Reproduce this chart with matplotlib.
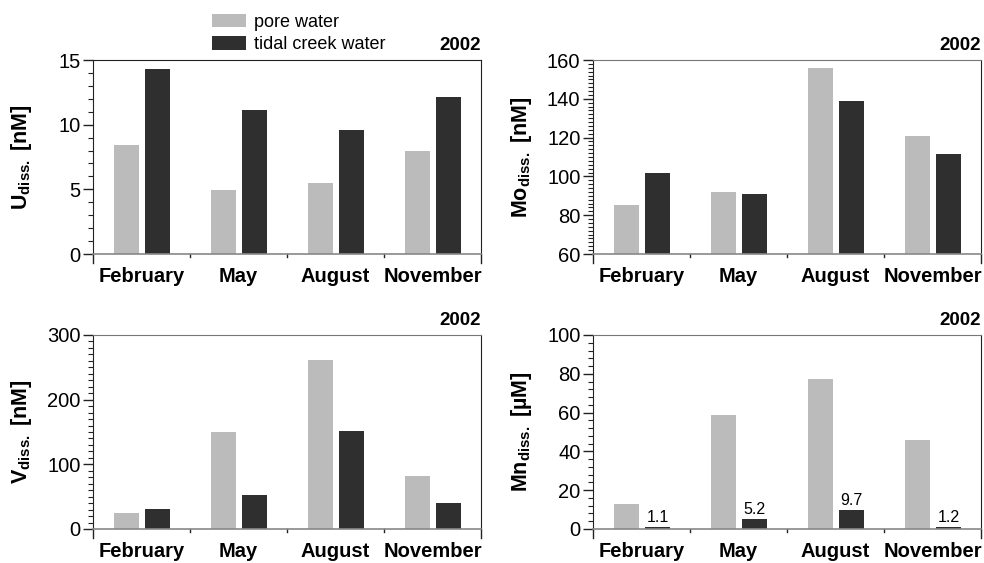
import matplotlib
matplotlib.use("Agg")
import matplotlib.pyplot as plt
import numpy as np
from matplotlib.ticker import MultipleLocator
from matplotlib.patches import Patch

plt.rcParams['font.family'] = ['Liberation Sans', 'DejaVu Sans']
plt.rcParams['mathtext.fontset'] = 'custom'
plt.rcParams['mathtext.rm'] = 'Liberation Sans:bold'
plt.rcParams['mathtext.bf'] = 'Liberation Sans:bold'

months = ['February', 'May', 'August', 'November']

u_pore = [8.44, 4.96, 5.5, 7.98]
u_creek = [14.33, 11.15, 9.6, 12.16]

mo_pore = [85.4, 92.1, 155.9, 120.6]
mo_creek = [102.0, 91.1, 138.8, 111.8]

v_pore = [25.2, 150.3, 261.4, 82.3]
v_creek = [31.4, 53.0, 151.8, 40.7]

mn_pore = [13.0, 58.8, 77.4, 46.0]
mn_creek = [1.1, 5.2, 9.7, 1.2]
mn_labels = ['1.1', '5.2', '9.7', '1.2']

light = '#bbbbbb'
dark = '#2f2f2f'

fig = plt.figure(figsize=(9.84, 5.63), dpi=100)

w = 388 / 984
h = 194 / 563
positions = [(93 / 984, 1 - 254 / 563), (593 / 984, 1 - 254 / 563),
             (93 / 984, 1 - 529 / 563), (593 / 984, 1 - 529 / 563)]

panels = [
    (u_pore, u_creek, (0, 15), 5, 1, r'U$_{\mathrm{diss.}}$ [nM]', '#222222'),
    (mo_pore, mo_creek, (60, 160), 20, 2, r'Mo$_{\mathrm{diss.}}$ [nM]', '#777777'),
    (v_pore, v_creek, (0, 300), 100, 10, r'V$_{\mathrm{diss.}}$ [nM]', '#777777'),
    (mn_pore, mn_creek, (0, 100), 20, 4, r'Mn$_{\mathrm{diss.}}$ [µM]', '#777777'),
]

x = np.arange(len(months))
axes = []
for k, (pore, creek, ylim, major, minor, ylabel, topc) in enumerate(panels):
    ax = fig.add_axes([positions[k][0], positions[k][1], w, h])
    axes.append(ax)
    ax.bar(x - 0.155, pore, width=0.25, color=light, zorder=2)
    ax.bar(x + 0.165, creek, width=0.25, color=dark, zorder=2)
    ax.set_xlim(-0.5, 3.5)
    ax.set_ylim(*ylim)
    ax.yaxis.set_major_locator(MultipleLocator(major))
    ax.yaxis.set_minor_locator(MultipleLocator(minor))
    ax.tick_params(axis='y', which='major', length=7, width=1, direction='out',
                   labelsize=14.5, pad=2, color='#222222')
    ax.tick_params(axis='y', which='minor', length=3.5, width=0.8,
                   direction='out', color='#222222')
    ax.set_xticks(x)
    ax.set_xticklabels(months, fontsize=14.5, fontweight='bold')
    ax.tick_params(axis='x', length=0, pad=9.5)
    ax.set_ylabel(ylabel, fontsize=15.5, fontweight='bold')
    ax.yaxis.set_label_coords(-0.152, 0.5)
    ax.spines['bottom'].set_color('#888888')
    ax.spines['bottom'].set_linewidth(1.2)
    ax.spines['top'].set_color(topc)
    ax.spines['left'].set_color('#222222')
    ax.spines['right'].set_color('#222222')
    # category separators and extended edges below the axis
    for b in [0.25, 0.5, 0.75]:
        ax.plot([b, b], [0, -0.018], transform=ax.transAxes, color='#222222',
                lw=1, clip_on=False)
    for b in [0.0, 1.0]:
        ax.plot([b, b], [0, -0.048], transform=ax.transAxes, color='#222222',
                lw=1, clip_on=False)
    ax.text(1.0, 1.03, '2002', transform=ax.transAxes, ha='right', va='bottom',
            fontsize=13.5, fontweight='bold')

# Value labels on the Mn tidal creek bars
for i, lab in enumerate(mn_labels):
    axes[3].text(x[i] + 0.165, mn_creek[i] + 1, lab, ha='center', va='bottom',
                 fontsize=11.5)

handles = [Patch(facecolor=light, label='pore water'),
           Patch(facecolor=dark, label='tidal creek water')]
fig.legend(handles=handles, loc='upper left', bbox_to_anchor=(199 / 984, 1.0 - 1 / 563),
           frameon=False, fontsize=13, handlelength=1.9, handleheight=0.8,
           handletextpad=0.45, labelspacing=0.3, borderpad=0.2)

plt.savefig('out.png', dpi=100)
